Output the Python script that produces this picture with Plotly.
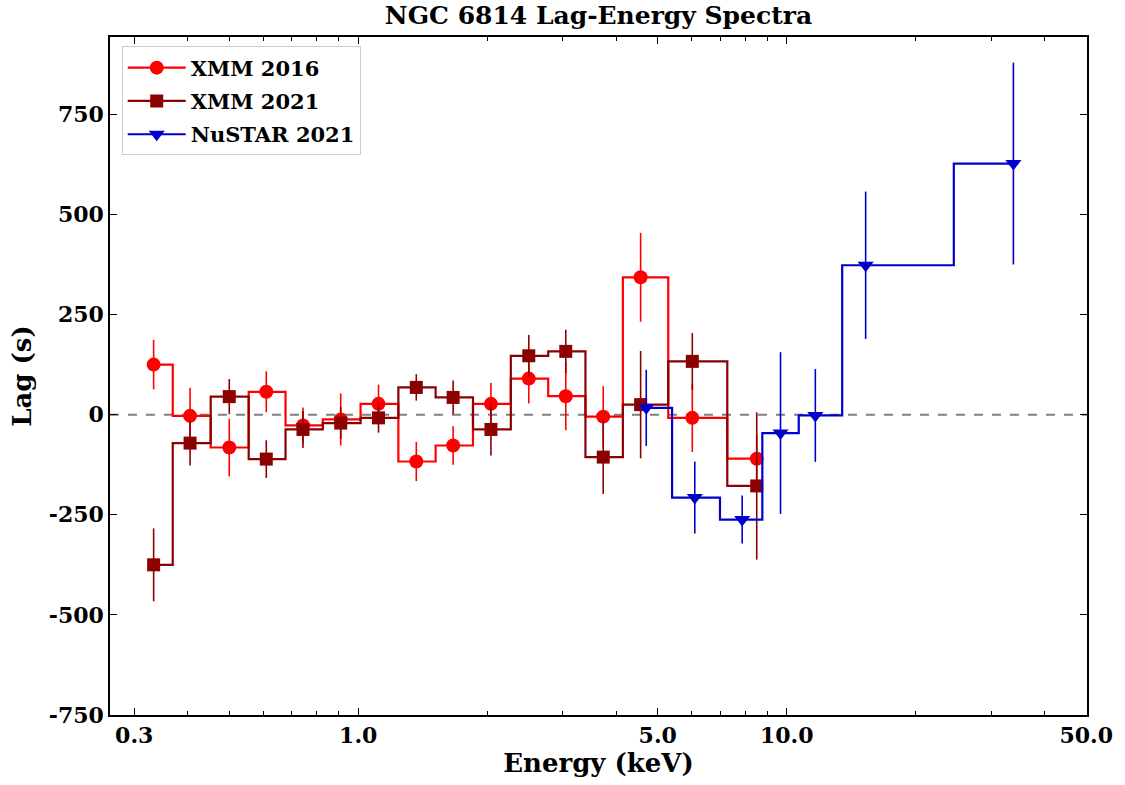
import plotly.graph_objects as go
import numpy as np

# ---- data ----
energy_xmm = [0.333, 0.405, 0.500, 0.610, 0.743, 0.910, 1.115, 1.366, 1.665, 2.04, 2.50, 3.05, 3.73, 4.56, 6.02, 8.51]
lag_xmm2016 = [125, -3, -82, 57, -27, -12, 27, -117, -77, 27, 90, 46, -5, 343, -8, -110]
err_xmm2016 = [62, 70, 72, 51, 45, 65, 48, 49, 48, 52, 62, 85, 76, 111, 85, 60]
lag_xmm2021 = [-375, -71, 45, -111, -37, -21, -8, 68, 43, -37, 147, 158, -106, 25, 133, -178]
err_xmm2021 = [91, 56, 44, 47, 46, 40, 37, 33, 42, 65, 52, 54, 92, 134, 71, 184]
energy_nustar = [4.70, 6.10, 7.87, 9.67, 11.66, 15.28, 33.8]
lag_nustar = [17, -207, -262, -46, -2, 373, 627]
err_nustar = [95, 90, 60, 202, 116, 184, 252]

x_tickvals = [0.3, 1.0, 5.0, 10.0, 50.0]
x_ticktext = ["0.3", "1.0", "5.0", "10.0", "50.0"]
x_minor = [0.4, 0.5, 0.6, 0.7, 0.8, 0.9, 2, 3, 4, 6, 7, 8, 9, 20, 30, 40]
y_tickvals = [-750, -500, -250, 0, 250, 500, 750]
y_ticktext = [str(v) for v in y_tickvals]

series = [
    ("XMM 2016", energy_xmm, lag_xmm2016, err_xmm2016, "#ff0000", "circle", 14),
    ("XMM 2021", energy_xmm, lag_xmm2021, err_xmm2021, "#8b0000", "square", 13),
    ("NuSTAR 2021", energy_nustar, lag_nustar, err_nustar, "#0000cd", "triangle-down", 14),
]


def step_mid(x, y):
    # matplotlib-like step(where='mid') with linear midpoints
    x = np.asarray(x, float)
    y = np.asarray(y, float)
    xs, ys = [x[0]], [y[0]]
    for i in range(len(x) - 1):
        m = 0.5 * (x[i] + x[i + 1])
        xs += [m, m]
        ys += [y[i], y[i + 1]]
    xs.append(x[-1])
    ys.append(y[-1])
    return xs, ys


FONT = "DejaVu Serif, Liberation Serif, serif"
fig = go.Figure()

for name, xv, yv, ev, col, sym, ms in series:
    sx, sy = step_mid(xv, yv)
    fig.add_trace(go.Scatter(x=sx, y=sy, mode="lines", line=dict(color=col, width=2.2),
                             showlegend=False, hoverinfo="skip", legendgroup=name))
    fig.add_trace(go.Scatter(x=xv, y=yv, mode="markers",
                             marker=dict(symbol=sym, size=ms, color=col, line=dict(width=0)),
                             error_y=dict(type="data", array=ev, visible=True, color=col,
                                          thickness=1.6, width=0),
                             showlegend=False, legendgroup=name))
    fig.add_trace(go.Scatter(x=[None], y=[None], mode="lines+markers", name=name,
                             legendgroup=name,
                             line=dict(color=col, width=2.2),
                             marker=dict(symbol=sym, size=ms, color=col)))

fig.add_shape(type="line", xref="paper", x0=0, x1=1, yref="y", y0=0, y1=0,
              line=dict(color="#808080", width=2, dash="dash"), layer="below")

axis_common = dict(showgrid=False, zeroline=False, showline=True, linecolor="black",
                   linewidth=1.5, mirror="allticks", ticks="inside", tickcolor="black",
                   tickwidth=1.2, ticklen=7,
                   tickfont=dict(family=FONT, size=22, color="black", weight="bold"))

fig.update_xaxes(type="log", range=[np.log10(0.2634), np.log10(50.2)],
                 tickmode="array", tickvals=x_tickvals, ticktext=x_ticktext,
                 minor=dict(tickmode="array", tickvals=x_minor, ticks="inside", ticklen=4,
                            tickwidth=1, tickcolor="black", showgrid=False),
                 title=dict(text="Energy (keV)", font=dict(family=FONT, size=26, color="black", weight="bold"),
                            standoff=6),
                 **axis_common)
fig.update_yaxes(range=[-750, 943], tickmode="array", tickvals=y_tickvals, ticktext=y_ticktext,
                 title=dict(text="Lag (s)", font=dict(family=FONT, size=26, color="black", weight="bold"),
                            standoff=10),
                 **axis_common)

fig.update_layout(
    width=1125, height=785,
    margin=dict(l=110, r=35, t=37, b=70),
    paper_bgcolor="white", plot_bgcolor="white",
    title=dict(text="NGC 6814 Lag-Energy Spectra", x=0.5, xref="paper", xanchor="center",
               y=1 - 15 / 785, yanchor="middle",
               font=dict(family=FONT, size=25, color="black", weight="bold")),
    legend=dict(x=0.012, y=0.986, xanchor="left", yanchor="top",
                bgcolor="white", bordercolor="#cccccc", borderwidth=1,
                font=dict(family=FONT, size=21, color="black", weight="bold"),
                itemwidth=58, tracegroupgap=3),
)

fig.write_html("out.html")
